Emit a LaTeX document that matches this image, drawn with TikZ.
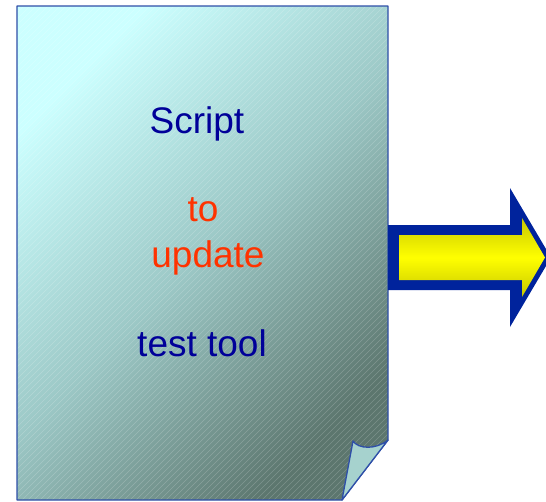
\documentclass[tikz,border=0pt]{standalone}
\usepackage{fontspec}
\setmainfont{Liberation Sans}

\definecolor{pagelight}{HTML}{CCFFFF}
\definecolor{pagemid}{HTML}{9CC8C6}
\definecolor{pagedark}{HTML}{5C766E}
\definecolor{pageline}{HTML}{2E4FA8}
\definecolor{curlfill}{HTML}{A6D2CE}
\definecolor{textblue}{HTML}{000099}
\definecolor{textred}{HTML}{FF3300}
\definecolor{arrowblue}{HTML}{00239C}
\definecolor{arrowdark}{HTML}{C8C800}

\tikzset{
    label text/.style={anchor=base, font=\fontsize{37}{40}\selectfont},
}

\begin{document}
\begin{tikzpicture}[x=1pt, y=-1pt]
    \useasboundingbox (0,0) rectangle (546,501);
    \clip (0,0) rectangle (546,501);
    % the sheet
    \shade[left color=pagelight, right color=pagedark, middle color=pagemid, shading angle=45]
    (17,6) -- (388,6) -- (388,440) -- (342,500) -- (17,500) -- cycle;
    \begin{scope}
        \clip (17,6) -- (388,6) -- (388,440) -- (342,500) -- (17,500) -- cycle;
        \foreach \i in {0,6,...,900}
        \draw[white, opacity=0.2, line width=0.5pt] (\i-500,500) -- (\i,0);
    \end{scope}
    \draw[pageline, line width=1.3pt, line join=round]
    (17,6) -- (388,6) -- (388,440) -- (342,500) -- (17,500) -- cycle;
    % the curled corner
    \filldraw[fill=curlfill, draw=pageline, line width=1.3pt, line join=round]
    (342,500) -- (353,441) .. controls (358,449) and (376,450) .. (388,440) -- cycle;
    % texts
    \node[label text, text=textblue] (script) at (197,133) {Script};
    \node[label text, text=textred] (to) at (203,221) {to};
    \node[label text, text=textred] (update) at (208,267) {update};
    \node[label text, text=textblue] (tool) at (202,356) {test tool};
    % the arrow
    \fill[arrowblue] (388,225) -- (510,225) -- (510,188) -- (551,257.5)
    -- (510,327) -- (510,290) -- (388,290) -- cycle;
    \shade[top color=arrowdark, bottom color=arrowdark, middle color=yellow]
    (399,235) -- (522,235) -- (522,218) -- (545,257.5)
    -- (522,297) -- (522,280) -- (399,280) -- cycle;
\end{tikzpicture}
\end{document}
